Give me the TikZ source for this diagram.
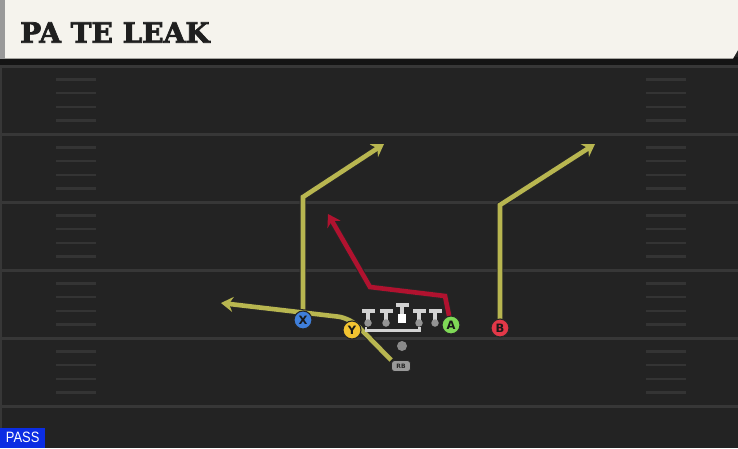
\documentclass[tikz,border=0pt]{standalone}
\usepackage{fontspec}
\newfontfamily\titlefont{DejaVu Serif}[BoldFont={DejaVu Serif Bold},BoldFeatures={FakeBold=2.6}]
\newfontfamily\lblfont{DejaVu Sans}[BoldFont={DejaVu Sans Bold}]
\newfontfamily\passfont{Liberation Sans}
\usetikzlibrary{arrows.meta}
\definecolor{fieldbg}{HTML}{232323}
\definecolor{yardc}{HTML}{373737}
\definecolor{hashc}{HTML}{343434}
\definecolor{cream}{HTML}{F5F3ED}
\definecolor{routey}{HTML}{B8B650}
\definecolor{router}{HTML}{B0122F}
\definecolor{xblue}{HTML}{3F7FDB}
\definecolor{yyellow}{HTML}{F3C431}
\definecolor{agreen}{HTML}{7FD957}
\definecolor{bred}{HTML}{E23848}
\definecolor{olgrey}{HTML}{D2D2D2}
\definecolor{passblue}{HTML}{0B2DE3}
\pgfdeclarelayer{field}
\pgfdeclarelayer{routes}
\pgfsetlayers{field,routes,main}
\begin{document}
\begin{tikzpicture}[x=1pt,y=-1pt,
  yard/.style={draw=yardc,line width=3pt},
  hashm/.style={draw=hashc,line width=2.4pt},
  route/.style={line width=4.6pt,line join=miter,
    preaction={draw=black!85,line width=6.6pt}},
  tipend/.style={-{Stealth[length=12pt,width=15pt,inset=4pt]}},
  player/.style={circle,draw=black!85,line width=1.1pt,minimum size=18pt,inner sep=0pt,
    font=\lblfont\bfseries\fontsize{11.5}{11.5}\selectfont,text=black!90},
  lineman/.style={fill=olgrey,draw=none},
  ldot/.style={circle,fill=black!42,minimum size=7.5pt,inner sep=0pt},
]
\useasboundingbox (0,0) rectangle (738,448);
\begin{pgfonlayer}{field}
  \fill[fieldbg] (0,0) rectangle (738,448);
  \foreach \yy in {66,134,202,270,338,406} \draw[yard] (0,\yy) -- (738,\yy);
  \foreach \yy in {66,134,202,270,338} {
    \foreach \j in {1,2,3,4} {
      \draw[hashm] (56,\yy+13.6*\j) -- (96,\yy+13.6*\j);
      \draw[hashm] (646,\yy+13.6*\j) -- (686,\yy+13.6*\j);
    }
  }
  \draw[draw=yardc,line width=2.5pt] (1,64) -- (1,448);
  % header
  \fill[black!92] (0,57) rectangle (738,65);
  \fill[cream] (0,0) -- (738,0) -- (738,50) -- (733,58.5) -- (0,58.5) -- cycle;
  \fill[black!40] (0,0) rectangle (5,58.5);
\end{pgfonlayer}
\node[anchor=west,inner sep=0pt,text=black!88,xscale=1.0,
  font=\titlefont\bfseries\fontsize{28}{28}\selectfont] (title) at (20,32.5) {PA TE LEAK};

% offensive line
\foreach \nm/\xx in {LT/368,LG/386,RG/419,RT/435} {
  \fill[lineman] (\xx-6.5,308.5) rectangle (\xx+6.5,313);
  \fill[lineman] (\xx-2.2,311) rectangle (\xx+2.2,322);
  \node[ldot] (\nm) at (\xx,323) {};
}
\fill[lineman] (395.5,302.5) rectangle (408.5,307);
\fill[lineman] (399.8,305) rectangle (404.2,314);
\node[rectangle,fill=white,minimum size=8.5pt,inner sep=0pt] (C) at (402,318.5) {};
\draw[olgrey,line width=3pt] (365.5,330) -- (420.5,330);
\draw[olgrey,line width=3pt] (RG.south) -- (419,331.5);
\draw[olgrey,line width=2.6pt] (366,326.5) -- (366,332);

% backs
\node[circle,fill=black!46,minimum size=10pt,inner sep=0pt] (QB) at (402,346) {};
\node[rectangle,rounded corners=3pt,fill=black!40,draw=black!85,line width=0.8pt,
  minimum width=19pt,minimum height=11pt,inner sep=0pt,
  font=\lblfont\bfseries\fontsize{6}{6}\selectfont,text=black!85] (RB) at (401,366) {RB};

% skill players
\node[player,fill=xblue] (X) at (303,320) {X};
\node[player,fill=yyellow] (Y) at (352,330) {Y};
\node[player,fill=agreen] (A) at (451,325) {A};
\node[player,fill=bred] (B) at (500,328) {B};

% route points
\coordinate (xturn) at (303,197);
\coordinate (xend) at (384,144);
\coordinate (bturn) at (500,205);
\coordinate (bend) at (595,144);
\coordinate (a1) at (445,296);
\coordinate (a2) at (370,287);
\coordinate (aend) at (328,214);
\coordinate (rbturn) at (350,318);
\coordinate (rbend) at (221,303);

\begin{pgfonlayer}{routes}
  \draw[route,routey,tipend] (X.center) -- (xturn) -- (xend);
  \draw[route,routey,tipend] (B.center) -- (bturn) -- (bend);
  \draw[route,router,tipend] (A.center) -- (a1) -- (a2) -- (aend);
  \draw[route,routey,tipend,rounded corners=12pt] (RB.north west) -- (rbturn) -- (rbend);
\end{pgfonlayer}

% play type label
\node[anchor=south west,fill=passblue,inner sep=0pt,minimum width=45pt,minimum height=20pt,
  text=white,font=\passfont\fontsize{15}{15}\selectfont] (pass) at (0,448) {\scalebox{0.86}[1]{PASS}};
\end{tikzpicture}
\end{document}
